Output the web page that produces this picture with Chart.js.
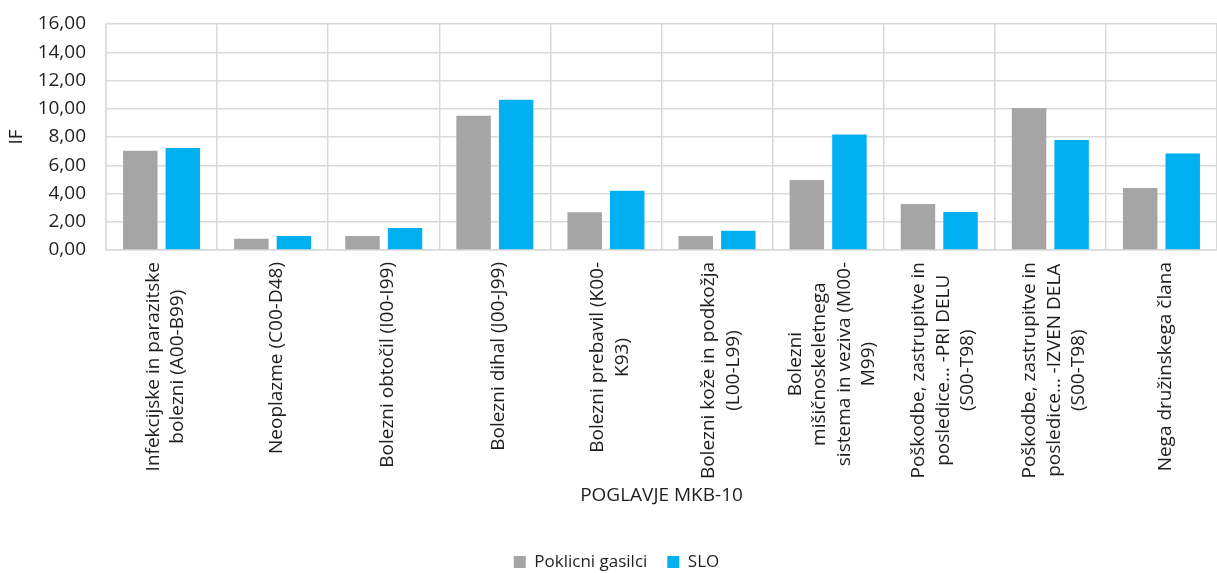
<!DOCTYPE html>
<html>
<head>
<meta charset="utf-8">
<script src="https://cdn.jsdelivr.net/npm/chart.js@4/dist/chart.umd.min.js"></script>
<style>
  html, body { margin: 0; padding: 0; background: #fff; }
  #wrap { width: 1217px; height: 573px; }
</style>
</head>
<body>
<div id="wrap"><canvas id="chart"></canvas></div>
<script>
// categories (MKB-10 chapters), one array of lines per category
const categories = [
  ['Infekcijske in parazitske', 'bolezni (A00-B99)'],
  ['Neoplazme (C00-D48)'],
  ['Bolezni obtočil (I00-I99)'],
  ['Bolezni dihal (J00-J99)'],
  ['Bolezni prebavil (K00-', 'K93)'],
  ['Bolezni kože in podkožja', '(L00-L99)'],
  ['Bolezni', 'mišičnoskeletnega', 'sistema in veziva (M00-', 'M99)'],
  ['Poškodbe, zastrupitve in', 'posledice… -PRI DELU', '(S00-T98)'],
  ['Poškodbe, zastrupitve in', 'posledice… -IZVEN DELA', '(S00-T98)'],
  ['Nega družinskega člana']
];

const seriesNames = ['Poklicni gasilci', 'SLO'];
const gasilci = [7.03, 0.80, 0.99, 9.50, 2.67, 0.99, 4.96, 3.26, 10.05, 4.39];
const slo = [7.22, 0.99, 1.56, 10.64, 4.20, 1.37, 8.17, 2.69, 7.79, 6.84];

const FONT = '"Open Sans", "DejaVu Sans", sans-serif';
const TXT = '#1f1f1f';
const GRID = '#d9d9d9';

// x labels: rotated, block starts at the axis, lines centred on each other
const rotatedLabels = {
  id: 'rotatedLabels',
  afterDraw(chart) {
    const ctx = chart.ctx;
    const xs = chart.scales.x;
    const top = chart.chartArea.bottom + 12;
    const lh = 24.5;
    ctx.save();
    ctx.font = '19px ' + FONT;
    ctx.fillStyle = TXT;
    ctx.textAlign = 'center';
    ctx.textBaseline = 'middle';
    categories.forEach((lines, i) => {
      const x = xs.getPixelForValue(i) + 4;
      const w = Math.max(...lines.map(l => ctx.measureText(l).width));
      ctx.save();
      ctx.translate(x, top);
      ctx.rotate(-Math.PI / 2);
      lines.forEach((l, j) => {
        ctx.fillText(l, -w / 2, (j - (lines.length - 1) / 2) * lh);
      });
      ctx.restore();
    });
    ctx.restore();
  }
};

new Chart(document.getElementById('chart'), {
  type: 'bar',
  data: {
    labels: categories,
    datasets: [
      { label: seriesNames[0], data: gasilci, backgroundColor: '#a5a5a5' },
      { label: seriesNames[1], data: slo, backgroundColor: '#00b0f0' }
    ]
  },
  options: {
    responsive: true,
    maintainAspectRatio: false,
    animation: false,
    layout: { padding: { top: 24, left: 16, right: 0, bottom: -7.5 } },
    datasets: { bar: { categoryPercentage: 0.766, barPercentage: 0.81 } },
    plugins: {
      tooltip: { enabled: false },
      legend: {
        position: 'bottom',
        labels: {
          boxWidth: 12, boxHeight: 12, padding: 20,
          color: TXT, font: { family: FONT, size: 17 }
        }
      }
    },
    scales: {
      x: {
        grid: { color: GRID, lineWidth: 1.5, drawTicks: false, offset: true },
        border: { color: GRID, width: 1.5 },
        ticks: { display: false },
        title: {
          display: true, text: 'POGLAVJE MKB-10', color: TXT,
          font: { family: FONT, size: 19 },
          padding: { top: 234.6, bottom: 26.1 }
        }
      },
      y: {
        min: 0, max: 16,
        ticks: {
          stepSize: 2, padding: 20, color: TXT,
          font: { family: FONT, size: 19 },
          callback: v => v.toFixed(2).replace('.', ',')
        },
        grid: { color: GRID, lineWidth: 1.5, drawTicks: false },
        border: { color: GRID, width: 1.5 },
        title: {
          display: true, text: 'IF', color: TXT,
          font: { family: FONT, size: 19 },
          padding: { top: -10.4, bottom: 0 }
        },
        afterFit: s => {
          s.width = 90;
          s.paddingTop = 10;
          s.paddingBottom = 10;
        }
      }
    }
  },
  plugins: [rotatedLabels]
});
</script>
</body>
</html>
